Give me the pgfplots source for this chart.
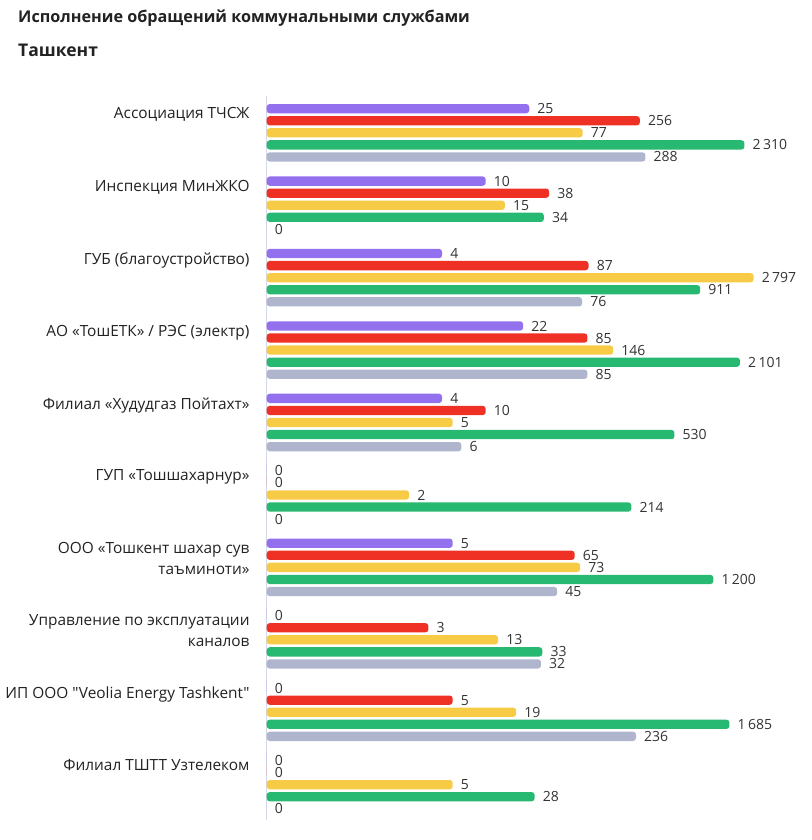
\documentclass[border=0pt]{standalone}
\usepackage{fontspec}
\setmainfont{Open Sans}[Ligatures=TeXOff]
\usepackage{pgfplots}
\usepackage{pgfplotstable}
\pgfplotsset{compat=1.18}
\definecolor{cPurple}{HTML}{9370EE}
\definecolor{cRed}{HTML}{EE3124}
\definecolor{cYellow}{HTML}{F7CB45}
\definecolor{cGreen}{HTML}{27B872}
\definecolor{cGray}{HTML}{B0B5CE}
\definecolor{axisgray}{HTML}{D5D8E6}
\definecolor{txt}{HTML}{222222}
\definecolor{num}{HTML}{333333}
\pgfplotstableread{
idx a b c d e
1 25 256 77 2310 288
2 10 38 15 34 0
3 4 87 2797 911 76
4 22 85 146 2101 85
5 4 10 5 530 6
6 0 0 2 214 0
7 5 65 73 1200 45
8 0 3 13 33 32
9 0 5 19 1685 236
10 0 0 5 28 0
}\data
\begin{document}
\begin{tikzpicture}
\useasboundingbox (0pt,0pt) rectangle (811pt,-840pt);
\node[anchor=west, font=\bfseries\fontsize{16.2}{18}\selectfont, text=txt, inner sep=0pt] at (18pt,-18pt) {Исполнение обращений коммунальными службами};
\node[anchor=west, font=\bfseries\fontsize{17.5}{20}\selectfont, text=txt, inner sep=0pt] at (18pt,-50pt) {Ташкент};
\begin{axis}[
  at={(266.7pt,-96pt)}, anchor=north west,
  scale only axis, width=514.5pt, height=724pt,
  xmode=log, log origin=infty, xmin=0.1, xmax=5000,
  ymin=-1.05, ymax=58.93, y dir=reverse,
  xbar, bar width=0.77, bar shift=0pt,
  axis x line=none, axis y line=left,
  y axis line style={draw=axisgray, line width=1.3pt, -},
  ytick={-0.1,5.9,11.9,17.9,23.9,29.9,35.9,41.9,47.9,53.9},
  yticklabels={{Ассоциация ТЧСЖ},{Инспекция МинЖКО},{ГУБ (благоустройство)},{АО «ТошЕТК» / РЭС (электр)},{Филиал «Худудгаз Пойтахт»},{ГУП «Тошшахарнур»},{ООО «Тошкент шахар сув\\таъминоти»},{Управление по эксплуатации\\каналов},{ИП ООО "Veolia Energy Tashkent"},{Филиал ТШТТ Узтелеком}},
  major tick length=0pt,
  yticklabel style={anchor=north east, align=right, inner sep=0pt, xshift=-17pt, font=\fontsize{15.4}{21}\selectfont, text=txt},
  nodes near coords, point meta=explicit,
  every node near coord/.append style={anchor=west, inner sep=0pt, xshift=8pt, font=\fontsize{14}{16}\selectfont, text=num},
  /pgf/number format/.cd, fixed, precision=0, 1000 sep={\,}, assume math mode=true,
  /pgfplots/.cd,
  clip=false,
]
\addplot[fill=cPurple, draw=none, rounded corners=3pt] table[x expr={max(\thisrow{a},0.1)}, y expr={6*\coordindex+0}, meta=a] {\data};
\addplot[fill=cRed, draw=none, rounded corners=3pt] table[x expr={max(\thisrow{b},0.1)}, y expr={6*\coordindex+1}, meta=b] {\data};
\addplot[fill=cYellow, draw=none, rounded corners=3pt] table[x expr={max(\thisrow{c},0.1)}, y expr={6*\coordindex+2}, meta=c] {\data};
\addplot[fill=cGreen, draw=none, rounded corners=3pt] table[x expr={max(\thisrow{d},0.1)}, y expr={6*\coordindex+3}, meta=d] {\data};
\addplot[fill=cGray, draw=none, rounded corners=3pt] table[x expr={max(\thisrow{e},0.1)}, y expr={6*\coordindex+4}, meta=e] {\data};
\end{axis}
\end{tikzpicture}
\end{document}
